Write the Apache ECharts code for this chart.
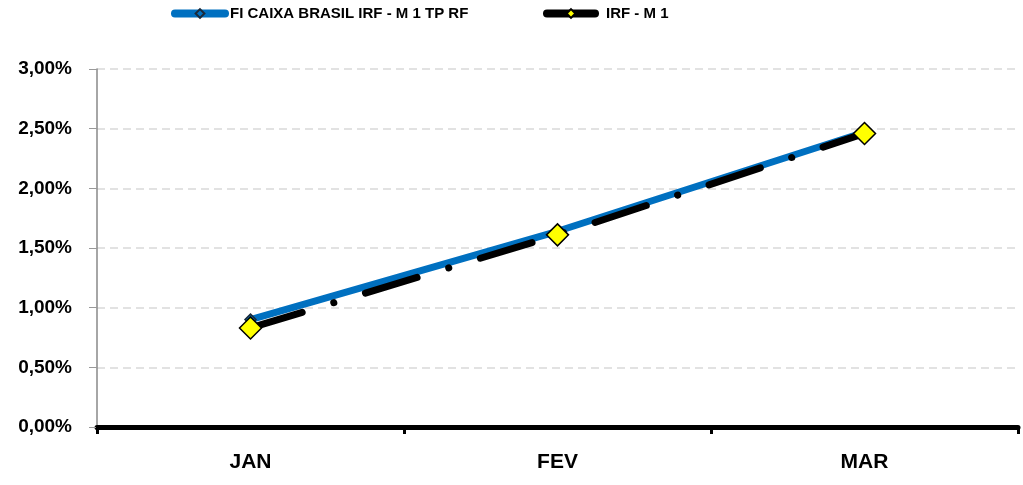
<!DOCTYPE html>
<html><head><meta charset="utf-8">
<script src="https://cdn.jsdelivr.net/npm/echarts@6/dist/echarts.min.js"></script>
<style>html,body{margin:0;padding:0;background:#fff}#c{width:1023px;height:485px}</style>
</head><body><div id="c"></div>
<script>
const categories = ['JAN', 'FEV', 'MAR'];
const fundValues = [0.90, 1.64, 2.47];
const indexValues = [0.83, 1.61, 2.46];
const fundName = 'FI CAIXA BRASIL IRF - M 1 TP RF';
const indexName = 'IRF - M 1';
const yTicks = [0, 0.5, 1, 1.5, 2, 2.5, 3];

const FONT = 'Arial, "Liberation Sans", sans-serif';
const chart = echarts.init(document.getElementById('c'), null, {renderer: 'canvas'});
chart.setOption({
  animation: false,
  backgroundColor: '#fff',
  legend: [
    {data: [fundName], left: 166, top: 1, itemWidth: 50, itemHeight: 11, itemGap: 5,
     lineStyle: {width: 8, cap: 'round', type: 'solid'},
     textStyle: {fontFamily: FONT, fontWeight: 'bold', fontSize: 15, color: '#000'}},
    {data: [indexName], left: 538, top: 1, itemWidth: 48, itemHeight: 11,
     lineStyle: {width: 8, cap: 'round', type: 'solid'},
     textStyle: {fontFamily: FONT, fontWeight: 'bold', fontSize: 15, color: '#000', padding: [0,0,0,6]}}
  ],
  grid: {left: 97, right: 5, top: 69, bottom: 58, containLabel: false},
  xAxis: {
    type: 'category', data: categories, boundaryGap: true,
    axisLine: {lineStyle: {color: '#000', width: 5}},
    axisTick: {show: true, length: 7, lineStyle: {color: '#000', width: 3}},
    axisLabel: {fontFamily: FONT, fontWeight: 'bold', fontSize: 21, color: '#000', margin: 25},
    splitLine: {show: false}
  },
  yAxis: {
    type: 'value', min: yTicks[0], max: yTicks[yTicks.length-1], interval: 0.5,
    axisLine: {show: true, lineStyle: {color: '#888', width: 1.5}},
    axisTick: {show: true, length: 8, lineStyle: {color: '#999', width: 1}},
    axisLabel: {fontFamily: FONT, fontWeight: 'bold', fontSize: 19, color: '#000', margin: 25,
      formatter: v => v.toFixed(2).replace('.', ',') + '%'},
    splitLine: {show: true, lineStyle: {color: '#d9d9d9', type: [8, 5], width: 1.5}}
  },
  series: [
    {name: fundName, type: 'line', data: fundValues, z: 2,
     lineStyle: {color: '#0070C0', width: 7},
     itemStyle: {color: '#0070C0', borderColor: '#1a2a3a', borderWidth: 1.5},
     symbol: 'diamond', symbolSize: 11, showSymbol: true},
    {name: indexName, type: 'line', data: indexValues, z: 3,
     lineStyle: {color: '#000', width: 7, type: [54, 33, 0.1, 33], cap: 'round'},
     itemStyle: {color: '#FFFF00', borderColor: '#000', borderWidth: 1.5},
     symbol: 'diamond', symbolSize: 22, showSymbol: true}
  ]
});
</script></body></html>
